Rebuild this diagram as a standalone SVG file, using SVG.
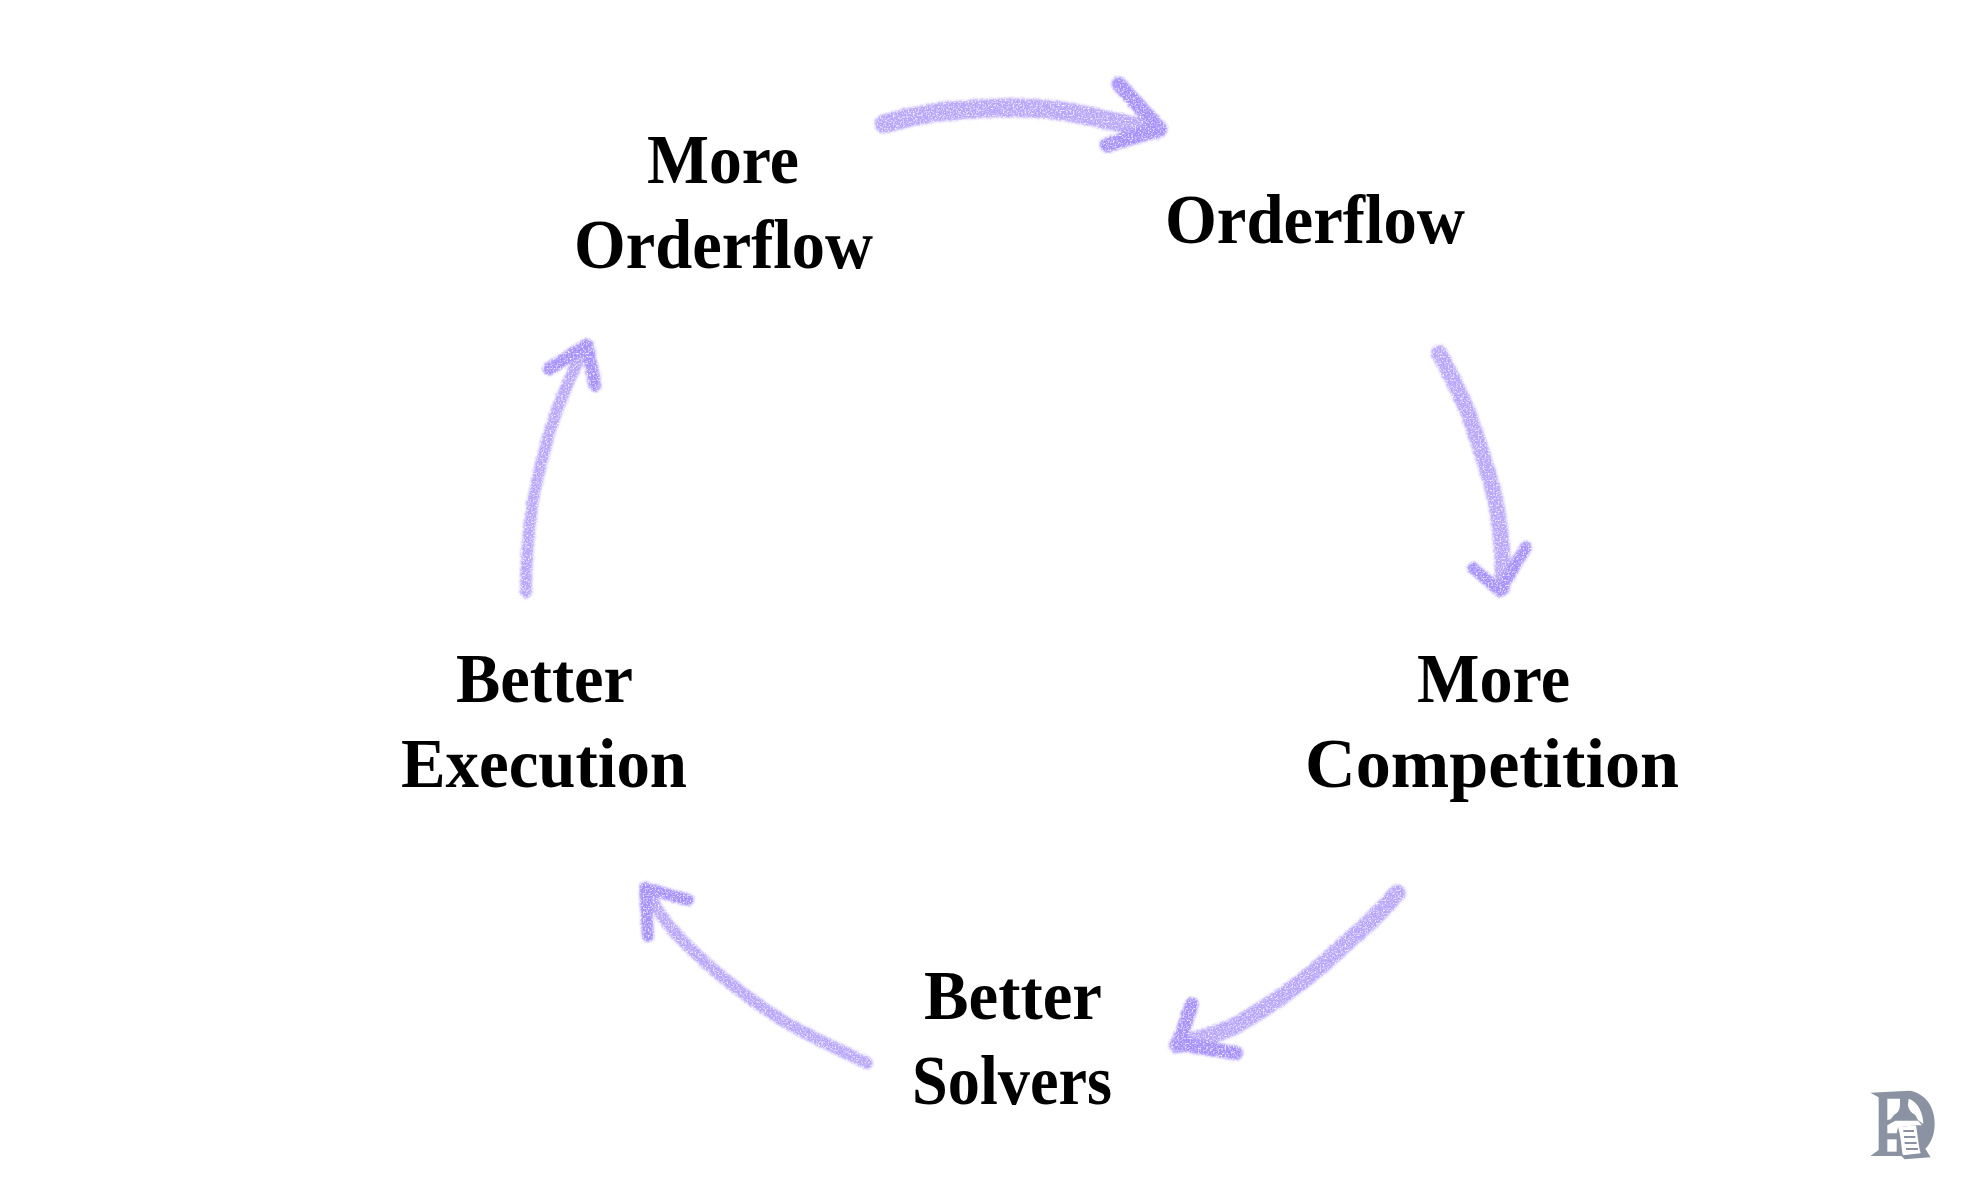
<svg xmlns="http://www.w3.org/2000/svg" width="1971" height="1182" viewBox="0 0 1971 1182">
<style>
.t{font-family:"Liberation Serif","Times New Roman",serif;font-weight:700;font-size:70px;fill:#000}
.a{fill:none;stroke:#a690fa;stroke-linecap:round;stroke-linejoin:round}
.s{stroke-opacity:.8}
</style>
<defs>
<filter id="crayon" x="-15%" y="-15%" width="130%" height="130%" color-interpolation-filters="sRGB">
<feTurbulence type="fractalNoise" baseFrequency="0.6" numOctaves="2" seed="4" result="n"/>
<feDisplacementMap in="SourceGraphic" in2="n" scale="5" xChannelSelector="R" yChannelSelector="G" result="d"/>
<feGaussianBlur in="d" stdDeviation="1.1" result="b"/>
<feColorMatrix in="n" type="matrix" values="0 0 0 0 0 0 0 0 0 0 0 0 0 0 0 2.6 0 0 0 -0.4" result="m"/>
<feComposite in="b" in2="m" operator="in"/>
</filter>
</defs>
<rect width="1971" height="1182" fill="#fff"/>
<g id="connectors" filter="url(#crayon)">
<g id="arrow-1"><path class="a s" stroke-width="19" d="M884 124C910 116 935 112 960 110C985 108 1005 107 1027 108C1050 109 1072 112 1093 117C1115 122 1135 126 1155 130"/><path class="a" stroke-width="15" d="M1119 84L1160 129L1107 145"/></g>
<g id="arrow-2"><path class="a s" stroke-width="16" d="M1439 353C1450 372 1458 390 1467 410C1475 430 1481 450 1487 470C1494 490 1498 510 1500 530C1503 550 1503 570 1502 588"/><path class="a" stroke-width="12" d="M1473 568L1500 591L1526 547"/></g>
<g id="arrow-3"><path class="a s" stroke-width="17" d="M1397 893C1383 910 1367 925 1350 940C1333 955 1317 970 1300 983C1278 1000 1256 1014 1233 1027C1215 1035 1196 1040 1177 1045"/><path class="a" stroke-width="14" d="M1192 1004L1178 1044L1236 1053"/></g>
<g id="arrow-4"><path class="a s" stroke-width="12" d="M867 1063C840 1050 813 1038 787 1023C763 1009 741 992 720 975C702 960 686 945 670 927C660 914 652 901 645 888"/><path class="a" stroke-width="12" d="M688 900L645 888L648 936"/></g>
<g id="arrow-5"><path class="a s" stroke-width="12" d="M526 592C526 562 528 535 532 507C536 480 543 455 550 430C560 400 572 372 585 347"/><path class="a" stroke-width="13" d="M549 369L587 345L595 385"/></g>
</g>
<g id="node-more-orderflow"><text class="t" x="647" y="183" textLength="152" lengthAdjust="spacingAndGlyphs">More</text><text class="t" x="574" y="268" textLength="299" lengthAdjust="spacingAndGlyphs">Orderflow</text></g>
<g id="node-orderflow"><text class="t" x="1165" y="243" textLength="300" lengthAdjust="spacingAndGlyphs">Orderflow</text></g>
<g id="node-more-competition"><text class="t" x="1417" y="702" textLength="153" lengthAdjust="spacingAndGlyphs">More</text><text class="t" x="1305" y="787" textLength="374" lengthAdjust="spacingAndGlyphs">Competition</text></g>
<g id="node-better-solvers"><text class="t" x="924" y="1019" textLength="178" lengthAdjust="spacingAndGlyphs">Better</text><text class="t" x="912" y="1104" textLength="200" lengthAdjust="spacingAndGlyphs">Solvers</text></g>
<g id="node-better-execution"><text class="t" x="456" y="702" textLength="177" lengthAdjust="spacingAndGlyphs">Better</text><text class="t" x="401" y="787" textLength="286" lengthAdjust="spacingAndGlyphs">Execution</text></g>
<g id="logo" transform="translate(1838 1070) scale(.3333)">
<path fill="#8b93a3" d="M97 68L215 62C262 70 290 110 290 160C290 195 278 222 262 236L278 262L200 268L190 258L97 258L122 240L122 82Z"/>
<path fill="#fff" d="M148 86L186 86L186 105Q186 125 168 135L158 148L148 150Z"/>
<path fill="#fff" d="M212 86C240 95 256 130 256 162L240 150L232 135Q212 125 210 105Z"/>
<path fill="#fff" d="M148 166L172 152L240 152L252 166L234 166L180 172L176 190L148 190Z"/>
<path fill="#fff" d="M148 208L176 208L176 245L148 245Z"/>
<path fill="#fff" d="M180 172L234 166C240 200 240 220 248 250L195 256C190 240 190 200 180 172Z"/>
<path fill="#8b93a3" d="M196 180H228V186H196ZM198 198H232V204H198ZM200 216H236V222H200ZM204 234H240V240H204ZM148 192H176V204H148Z"/>
</g>
</svg>
